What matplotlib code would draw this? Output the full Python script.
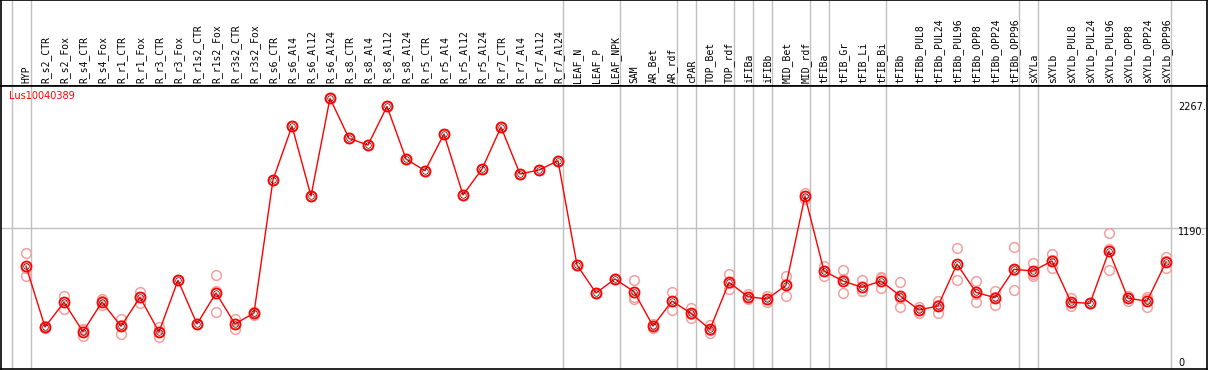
import matplotlib
matplotlib.use("Agg")
import matplotlib.pyplot as plt

# sample names (column headers)
samples = [
    "HYP", "R_s2_CTR", "R_s2_Fox", "R_s4_CTR", "R_s4_Fox", "R_r1_CTR", "R_r1_Fox",
    "R_r3_CTR", "R_r3_Fox", "R_r1s2_CTR", "R_r1s2_Fox", "R_r3s2_CTR", "R_r3s2_Fox",
    "R_s6_CTR", "R_s6_Al4", "R_s6_Al12", "R_s6_Al24", "R_s8_CTR", "R_s8_Al4",
    "R_s8_Al12", "R_s8_Al24", "R_r5_CTR", "R_r5_Al4", "R_r5_Al12", "R_r5_Al24",
    "R_r7_CTR", "R_r7_Al4", "R_r7_Al12", "R_r7_Al24", "LEAF_N", "LEAF_P", "LEAF_NPK",
    "SAM", "AR_Bet", "AR_rdf", "cPAR", "TOP_Bet", "TOP_rdf", "iFIBa", "iFIBb",
    "MID_Bet", "MID_rdf", "tFIBa", "tFIB_Gr", "tFIB_Li", "tFIB_Bi", "tFIBb",
    "tFIBb_PUL8", "tFIBb_PUL24", "tFIBb_PUL96", "tFIBb_OPP8", "tFIBb_OPP24", "tFIBb_OPP96",
    "sXYLa", "sXYLb", "sXYLb_PUL8", "sXYLb_PUL24", "sXYLb_PUL96", "sXYLb_OPP8",
    "sXYLb_OPP24", "sXYLb_OPP96",
]

# mean expression per sample
means = [
    877, 372, 577, 333, 579, 378, 618, 331, 759, 397, 654, 397, 488,
    1591, 2037, 1457, 2267, 1935, 1880, 2200, 1764, 1667, 1971, 1466, 1681,
    2029, 1640, 1673, 1750,
    886, 654, 770, 665, 380, 587, 485, 353, 742, 623, 604, 717, 1457, 836,
    753, 701, 753, 631,
    513, 546, 894, 659, 615, 850, 836, 919, 577, 568, 1002, 610, 587, 910,
]

# replicate values (three replicates per sample)
rep_hi = [
    983, 383, 629, 347, 601, 436, 662, 370, 759, 397, 800, 436, 499,
    1591, 2037, 1457, 2267, 1935, 1880, 2200, 1764, 1667, 1971, 1466, 1681,
    2029, 1640, 1673, 1750,
    886, 654, 770, 761, 380, 659, 527, 389, 808, 643, 631, 792, 1485, 877,
    842, 759, 784, 742,
    513, 590, 1024, 753, 668, 1032, 902, 974, 615, 568, 1148, 631, 620, 954,
]
rep_mid = [
    858, 372, 578, 355, 584, 386, 624, 331, 759, 397, 668, 400, 496,
    1591, 2037, 1457, 2267, 1935, 1880, 2200, 1764, 1667, 1971, 1466, 1681,
    2029, 1640, 1673, 1750,
    886, 654, 770, 623, 396, 589, 479, 350, 734, 622, 604, 728, 1456, 836,
    766, 674, 777, 616,
    535, 557, 897, 645, 620, 842, 809, 925, 570, 568, 1016, 609, 603, 918,
]
rep_lo = [
    795, 364, 524, 297, 552, 312, 568, 292, 759, 397, 494, 355, 469,
    1591, 2037, 1457, 2267, 1935, 1880, 2200, 1764, 1667, 1971, 1466, 1681,
    2029, 1640, 1673, 1750,
    886, 654, 770, 606, 364, 513, 449, 320, 684, 604, 577, 631, 1430, 795,
    651, 670, 698, 535,
    491, 491, 761, 579, 557, 676, 797, 858, 546, 568, 842, 590, 538, 858,
]

# group separators sit just after these sample indices
separators = [-1, 0, 28, 31, 34, 35, 37, 38, 39, 41, 42, 45, 52, 53, 60]
gene = "Lus10040389"
y_marks = [2267, 1190, 0]

W, H = 1209, 370
fig = plt.figure(figsize=(W / 100, H / 100), dpi=100)
head_px = 86
ax_head = fig.add_axes([1 / W, 1 - head_px / H, 1206 / W, head_px / H])
ax = fig.add_axes([1 / W, 1 / H, 1206 / W, (H - head_px - 1) / H])

xs = list(range(len(samples)))
xlim = ((1 - 26) / 19, (1207 - 26) / 19)
for a in (ax, ax_head):
    a.set_xlim(*xlim)
    a.set_xticks([])
    a.set_yticks([])
    for s in a.spines.values():
        s.set_color("black")
        s.set_linewidth(1.2)
    for sp in separators:
        a.axvline(sp + 0.25, color="#c0c0c0", lw=1, zorder=0)

ax.set_ylim(24, 2369)
ax_head.set_ylim(0, 1)

for i, name in enumerate(samples):
    ax_head.text(i + 0.04, 0.03, name, rotation=90, ha="center", va="bottom",
                 family="DejaVu Sans Mono", fontsize=7, color="black")

ax.axhline(1190, color="#c0c0c0", lw=1, zorder=0)

for reps in (rep_hi, rep_mid, rep_lo):
    ax.plot(xs, reps, "o", ms=7, mfc="none", mec="#f2a0a0", mew=1.1, zorder=2)

ax.plot(xs, means, "-", color="red", lw=1, zorder=3)
ax.plot(xs, means, "o", ms=7.2, mfc="none", mec="red", mew=1.3, zorder=4)
ax.plot(xs, means, "o", ms=4, mfc="none", mec="#400000", mew=0.5, zorder=5)

ax.text(0.007, 0.965, gene, transform=ax.transAxes, color="red",
        fontsize=7, ha="left", va="center")

offsets = [-9, -4, 9]
for val, off in zip(y_marks, offsets):
    ax.annotate(f"{val}." if val else "0", xy=(0.976, val),
                xycoords=("axes fraction", "data"),
                xytext=(0, off * 0.72), textcoords="offset points",
                ha="left", va="center", fontsize=7, color="black")

fig.savefig("out.png", dpi=100)
